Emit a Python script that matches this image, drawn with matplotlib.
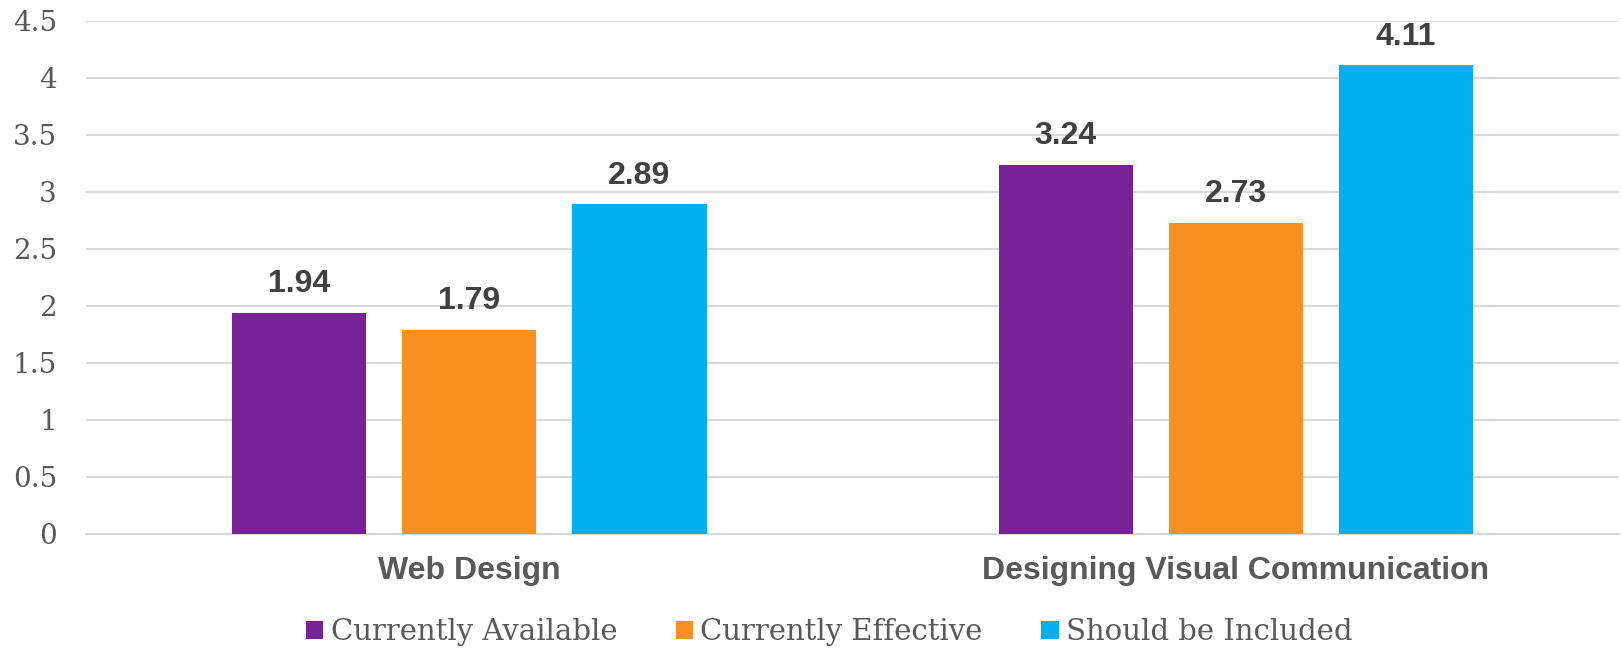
import matplotlib
matplotlib.use("Agg")
import matplotlib.pyplot as plt
import numpy as np

# Survey scores per course, one list per response type
courses = ["Web Design", "Designing Visual Communication"]
series_names = ["Currently Available", "Currently Effective", "Should be Included"]
currently_available = [1.94, 3.24]
currently_effective = [1.79, 2.73]
should_be_included = [2.89, 4.11]
y_ticks = [0, 0.5, 1, 1.5, 2, 2.5, 3, 3.5, 4, 4.5]

colors = ["#772396", "#F7901E", "#00B0F0"]
tick_font = "DejaVu Serif"
label_font = "Liberation Sans"

fig = plt.figure(figsize=(16.21, 6.5), dpi=100)
ax = fig.add_axes([0.0531, 0.1792, 0.9457, 0.7885])

x = np.arange(len(courses))
bar_w = 0.175
pitch = 0.222

all_series = [currently_available, currently_effective, should_be_included]
for i, (vals, name, col) in enumerate(zip(all_series, series_names, colors)):
    pos = x + (i - 1) * pitch
    bars = ax.bar(pos, vals, width=bar_w, color=col, label=name, zorder=3)
    for b, v in zip(bars, vals):
        ax.annotate(f"{v:.2f}", (b.get_x() + b.get_width() / 2, v),
                    xytext=(0, 9.5), textcoords="offset points",
                    ha="center", va="bottom", fontsize=23,
                    fontweight="bold", family=label_font, color="#404040")

ax.set_xlim(-0.5, 1.5)
ax.set_ylim(0, 4.5)
ax.set_yticks(y_ticks)
ax.set_yticklabels([f"{t:g}" for t in y_ticks], family=tick_font,
                   fontsize=20, color="#595959")
ax.set_xticks(x)
ax.set_xticklabels(courses, family=label_font, fontweight="bold",
                   fontsize=23, color="#595959")
ax.tick_params(axis="y", length=0, pad=21)
ax.tick_params(axis="x", length=0, pad=16.5)

ax.grid(axis="y", color="#D9D9D9", linewidth=1.5, zorder=0)
for s in ["top", "right", "left"]:
    ax.spines[s].set_visible(False)
ax.spines["bottom"].set_color("#D9D9D9")
ax.spines["bottom"].set_linewidth(1.5)

fig.legend(loc="center", bbox_to_anchor=(0.5115, 0.027), ncol=3, frameon=False,
           prop={"family": tick_font, "size": 21}, labelcolor="#595959",
           handlelength=0.6, handleheight=0.6, handletextpad=0.25,
           columnspacing=2.0)

fig.savefig("out.png", dpi=100)
